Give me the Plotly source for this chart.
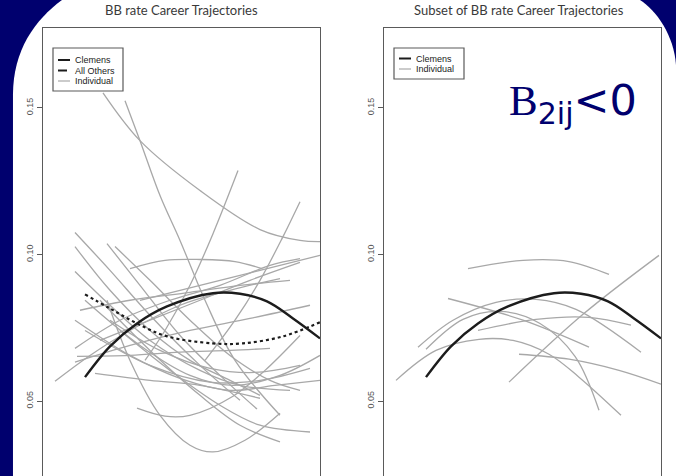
import plotly.graph_objects as go

# ---------------- data (age, BB rate) ----------------
clemens_age = [22.2, 24.7, 27.4, 30.4, 35.0, 37.7, 40.4, 43.0, 45.7]
clemens_rate = [0.0582, 0.0687, 0.0765, 0.0823, 0.0868, 0.0866, 0.0840, 0.0782, 0.0714]

others_age = [22.2, 24.7, 27.4, 30.4, 35.0, 38.0, 42.0, 45.7]
others_rate = [0.0864, 0.0816, 0.0765, 0.0721, 0.0697, 0.0697, 0.0721, 0.0769]

left_ind_ages = [
    [24.0, 27.7, 33.7, 39.7, 43.7, 45.7],
    [26.2, 27.7, 29.7, 31.7, 34.2, 37.2, 41.7],
    [28.2, 30.2, 32.7, 35.0, 37.5],
    [34.2, 37.2, 39.7, 42.0, 43.7],
    [26.7, 30.2, 33.7, 37.2, 39.9],
    [21.2, 24.7, 28.7, 32.7, 36.7, 39.7],
    [21.2, 24.7, 28.7, 33.7, 37.7, 42.7],
    [24.4, 27.7, 31.7, 35.7, 39.4],
    [25.2, 28.7, 32.7, 36.7, 40.7, 43.7],
    [21.2, 25.7, 30.7, 35.7, 40.7, 43.7],
    [19.2, 22.7, 26.7, 31.7, 36.7, 41.7],
    [21.4, 26.7, 31.7, 36.7, 40.7],
    [23.2, 28.7, 33.7, 39.7],
    [24.4, 26.7, 29.7, 32.7, 35.0, 38.2, 41.7],
    [27.4, 30.2, 32.7, 37.0, 40.2, 43.7],
    [23.7, 28.7, 33.7, 37.7, 41.7],
    [25.7, 30.7, 35.7, 39.7, 44.7],
    [22.2, 27.7, 32.7, 37.0, 41.7, 45.7],
    [21.2, 26.7, 31.7, 36.7, 41.2, 45.7],
    [22.2, 28.7, 34.7, 39.7, 44.7],
    [23.7, 28.7, 33.7, 38.7, 43.7],
    [21.7, 26.7, 32.7, 37.7, 42.7],
    [27.7, 33.7, 39.7, 45.7],
    [24.7, 29.7, 34.7, 39.2, 43.7],
    [21.2, 26.7, 32.7, 38.7, 44.7],
    [21.2, 24.7, 28.7, 33.7, 37.7],
]
left_ind_rates = [
    [0.1551, 0.1388, 0.1218, 0.1085, 0.1048, 0.1044],
    [0.1524, 0.1388, 0.1201, 0.1048, 0.0844, 0.0639, 0.0452],
    [0.0639, 0.0741, 0.0895, 0.1071, 0.1286],
    [0.0639, 0.0776, 0.0912, 0.1061, 0.1180],
    [0.0952, 0.0980, 0.0983, 0.0976, 0.0952],
    [0.1027, 0.0878, 0.0741, 0.0639, 0.0571, 0.0520],
    [0.0942, 0.0827, 0.0707, 0.0605, 0.0554, 0.0537],
    [0.1037, 0.0895, 0.0724, 0.0588, 0.0473],
    [0.1027, 0.0912, 0.0776, 0.0656, 0.0571, 0.0537],
    [0.0680, 0.0776, 0.0844, 0.0895, 0.0963, 0.0986],
    [0.0568, 0.0656, 0.0741, 0.0827, 0.0878, 0.0918],
    [0.0653, 0.0656, 0.0667, 0.0673, 0.0680],
    [0.0595, 0.0571, 0.0554, 0.0510],
    [0.0844, 0.0639, 0.0452, 0.0350, 0.0327, 0.0367, 0.0459],
    [0.0476, 0.0449, 0.0452, 0.0517, 0.0605, 0.0724],
    [0.0844, 0.0673, 0.0520, 0.0418, 0.0361],
    [0.0741, 0.0605, 0.0486, 0.0418, 0.0395],
    [0.0844, 0.0690, 0.0588, 0.0554, 0.0588, 0.0656],
    [0.0776, 0.0656, 0.0578, 0.0537, 0.0554, 0.0571],
    [0.0741, 0.0622, 0.0565, 0.0571, 0.0612],
    [0.0707, 0.0776, 0.0844, 0.0912, 0.0973],
    [0.0810, 0.0844, 0.0871, 0.0895, 0.0912],
    [0.0844, 0.0895, 0.0946, 0.0997],
    [0.0776, 0.0673, 0.0612, 0.0598, 0.0622],
    [0.0633, 0.0690, 0.0741, 0.0782, 0.0827],
    [0.1075, 0.0946, 0.0793, 0.0622, 0.0503],
]

right_ind_ages = [
    [26.4, 31.9, 36.5, 40.5],
    [30.5, 37.9, 45.5],
    [24.4, 31.9, 38.5],
    [21.4, 24.9, 29.2, 33.2, 37.2, 43.7],
    [22.2, 25.9, 29.6, 33.6, 37.1, 39.5],
    [27.4, 33.2, 38.5, 42.7],
    [19.2, 23.2, 27.5, 30.9, 34.5, 37.5, 41.7],
    [31.5, 36.5, 41.5, 45.7],
]
right_ind_rates = [
    [0.0952, 0.0980, 0.0976, 0.0932],
    [0.0565, 0.0796, 0.0997],
    [0.0850, 0.0776, 0.0684],
    [0.0684, 0.0776, 0.0837, 0.0847, 0.0813, 0.0667],
    [0.0677, 0.0779, 0.0806, 0.0765, 0.0653, 0.0469],
    [0.0741, 0.0779, 0.0786, 0.0759],
    [0.0571, 0.0673, 0.0711, 0.0707, 0.0660, 0.0582, 0.0452],
    [0.0660, 0.0643, 0.0605, 0.0558],
]

y_tick_vals = [0.05, 0.10, 0.15]
y_tick_text = ["0.05", "0.10", "0.15"]
titles = ["BB rate Career Trajectories", "Subset of BB rate Career Trajectories"]
legend_left = ["Clemens", "All Others", "Individual"]
legend_right = ["Clemens", "Individual"]

# ---------------- styling ----------------
NAVY = "#00006e"
GREY = "#a8a8a8"
DARK = "#1c1c1c"
FRAME = "#5a5a5a"
W, H = 676, 476


def px(x):
    return x / W


def py(y):
    return 1 - y / H


fig = go.Figure()


def add_line(x, y, xa, ya, color, width, dash="solid", name=None):
    fig.add_trace(go.Scatter(
        x=x, y=y, mode="lines", xaxis=xa, yaxis=ya, name=name, showlegend=False,
        line=dict(color=color, width=width, dash=dash, shape="spline", smoothing=1.0),
        hoverinfo="skip"))


# left panel
for a, r in zip(left_ind_ages, left_ind_rates):
    add_line(a, r, "x", "y", GREY, 1.3, name=legend_left[2])
add_line(others_age, others_rate, "x", "y", DARK, 2.2, dash="dot", name=legend_left[1])
add_line(clemens_age, clemens_rate, "x", "y", DARK, 2.4, name=legend_left[0])

# right panel
for a, r in zip(right_ind_ages, right_ind_rates):
    add_line(a, r, "x2", "y2", GREY, 1.3, name=legend_right[1])
add_line(clemens_age, clemens_rate, "x2", "y2", DARK, 2.4, name=legend_right[0])

x_range = [18, 45.7]
y_range = [0.0245, 0.1772]
y_dom = [0, 1 - 28 / H]

xcommon = dict(range=x_range, side="top", showline=True, linecolor=FRAME, linewidth=1.3,
               showticklabels=False, ticks="", showgrid=False, zeroline=False,
               fixedrange=True, automargin=False)
ycommon = dict(range=y_range, domain=y_dom, showline=True, mirror=True, linecolor=FRAME,
               linewidth=1.3, ticks="outside", ticklen=5, tickcolor=FRAME, tickwidth=1,
               tickvals=y_tick_vals, ticktext=y_tick_text, tickangle=-90,
               tickfont=dict(size=9, color="#555", family="Liberation Sans"),
               showgrid=False, zeroline=False, fixedrange=True, automargin=False)

white_panel = ("M 0.0192,-0.02 L 0.0192,0.8004 C 0.0192,0.8950 0.0518,0.9580 0.0917,1.0 "
               "L 0.9467,1.0 C 0.9704,0.9790 0.9970,0.9265 1.0,0.8634 L 1.0,-0.02 Z")

shapes = [dict(type="path", path=white_panel, xref="paper", yref="paper",
               fillcolor="white", line=dict(width=0), layer="below")]
annotations = [
    dict(text=titles[0], x=px(181), y=py(10), xref="paper", yref="paper",
         xanchor="center", yanchor="middle",
         showarrow=False, font=dict(family="Lato", size=13, color="#3a3a3a")),
    dict(text=titles[1], x=px(519), y=py(10), xref="paper", yref="paper",
         xanchor="center", yanchor="middle",
         showarrow=False, font=dict(family="Lato", size=13, color="#3a3a3a")),
    dict(text="<span style='font-family:Liberation Serif'>B</span><sub>2ij</sub>&lt;0",
         x=px(507), y=py(103), xref="paper", yref="paper", showarrow=False,
         xanchor="left", yanchor="middle",
         font=dict(family="DejaVu Sans", size=43, color=NAVY)),
]


def add_legend(box, rows):
    x0, y0, x1, y1 = box
    shapes.append(dict(type="rect", xref="paper", yref="paper",
                       x0=px(x0), x1=px(x1), y0=py(y1), y1=py(y0),
                       line=dict(color=FRAME, width=1.2), fillcolor="white"))
    for name, ypix, color, width, dash in rows:
        shapes.append(dict(type="line", xref="paper", yref="paper",
                           x0=px(x0 + 5), x1=px(x0 + 17), y0=py(ypix), y1=py(ypix),
                           line=dict(color=color, width=width, dash=dash)))
        annotations.append(dict(text=name, x=px(x0 + 20), y=py(ypix), xref="paper",
                                yref="paper", showarrow=False, xanchor="left",
                                yanchor="middle",
                                font=dict(family="Liberation Sans", size=9, color="#222")))


add_legend((53, 48, 123, 91), [
    (legend_left[0], 60, DARK, 2.0, "solid"),
    (legend_left[1], 70.5, DARK, 2.0, "dash"),
    (legend_left[2], 81, GREY, 1.2, "solid"),
])
add_legend((394, 48, 464, 79), [
    (legend_right[0], 58.5, DARK, 2.0, "solid"),
    (legend_right[1], 69, GREY, 1.2, "solid"),
])

fig.update_layout(
    width=W, height=H,
    margin=dict(l=0, r=0, t=0, b=0, autoexpand=False),
    paper_bgcolor=NAVY, plot_bgcolor="rgba(0,0,0,0)",
    showlegend=False,
    xaxis=dict(domain=[43 / W, 320 / W], anchor="y", **xcommon),
    yaxis=dict(anchor="x", **ycommon),
    xaxis2=dict(domain=[384 / W, 661 / W], anchor="y2", **xcommon),
    yaxis2=dict(anchor="x2", **ycommon),
    shapes=shapes,
    annotations=annotations,
)

fig.write_html(
    "out.html",
    config={"displayModeBar": False, "staticPlot": True},
    post_script="document.body.style.margin='0';document.body.style.overflow='hidden';",
)
